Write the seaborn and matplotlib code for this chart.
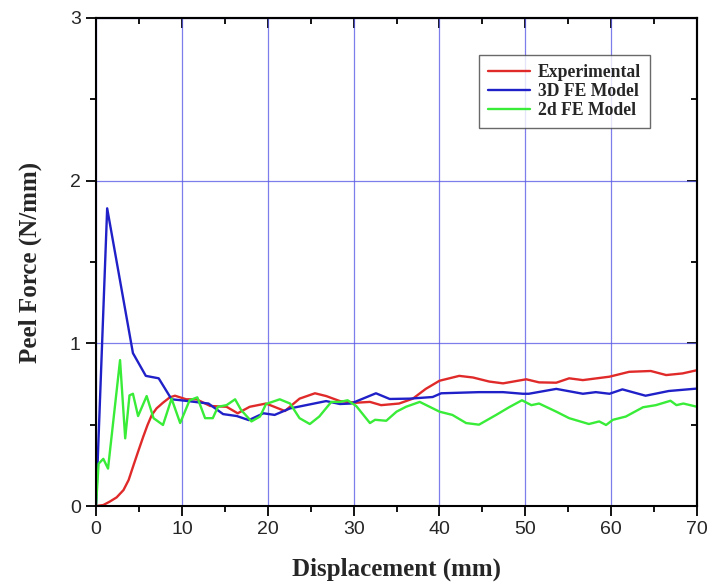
import matplotlib
matplotlib.use("Agg")
import matplotlib.pyplot as plt
import seaborn as sns
import pandas as pd
from matplotlib.ticker import MultipleLocator

# Peel test: experimental curve vs. 3D and 2D finite-element predictions
exp_x = [0, 0.85, 1.6, 2.4, 3.2, 3.8, 4.3, 4.9, 5.5, 6.0, 6.5, 7.05, 7.8, 8.6, 9.2, 10.5,
         11.7, 13.3, 15.2, 16.5, 17.9, 19.8, 22.0, 23.7, 25.5, 26.8, 28.4, 30.3, 31.9,
         33.2, 35.3, 36.9, 38.4, 40.0, 42.3, 43.9, 45.8, 47.4, 50.1, 51.6, 53.6, 55.1,
         56.7, 59.8, 62.1, 64.6, 66.4, 68.3, 70.0]
exp_y = [0, 0.006, 0.027, 0.053, 0.098, 0.16, 0.24, 0.334, 0.426, 0.498, 0.56, 0.60,
         0.635, 0.668, 0.678, 0.656, 0.656, 0.615, 0.61, 0.57, 0.61, 0.63, 0.584, 0.66,
         0.693, 0.676, 0.645, 0.635, 0.64, 0.62, 0.63, 0.66, 0.72, 0.77, 0.80, 0.79,
         0.765, 0.754, 0.779, 0.76, 0.758, 0.785, 0.774, 0.795, 0.825, 0.83, 0.805,
         0.815, 0.835]

fe3d_x = [0, 1.3, 4.3, 5.8, 7.3, 8.8, 9.9, 13.1, 14.8, 16.4, 17.8, 19.5, 20.8, 22.6,
          26.8, 28.4, 29.7, 32.6, 34.2, 36.5, 39.2, 40.2, 44.6, 47.4, 49.7, 50.4, 53.6,
          56.7, 58.2, 59.8, 61.3, 64.0, 66.7, 70.0]
fe3d_y = [0, 1.83, 0.94, 0.80, 0.785, 0.656, 0.65, 0.63, 0.565, 0.553, 0.528, 0.57,
          0.56, 0.60, 0.645, 0.627, 0.63, 0.693, 0.658, 0.66, 0.67, 0.693, 0.70, 0.70,
          0.69, 0.69, 0.72, 0.69, 0.70, 0.69, 0.717, 0.678, 0.707, 0.722]

fe2d_x = [0, 0.3, 0.85, 1.4, 2.8, 3.4, 3.9, 4.3, 4.9, 5.9, 6.7, 7.8, 8.8, 9.8, 10.9,
          11.8, 12.7, 13.6, 14.2, 15.2, 16.2, 16.9, 18.1, 19.1, 19.8, 21.4, 22.6, 23.7,
          24.9, 26.0, 27.4, 28.4, 29.3, 30.3, 31.9, 32.5, 33.8, 35.0, 36.1, 37.7, 40.0,
          41.5, 43.1, 44.6, 46.6, 48.1, 49.6, 50.7, 51.6, 53.6, 55.1, 57.4, 58.6, 59.4,
          60.2, 61.7, 63.7, 65.2, 66.9, 67.6, 68.4, 70.0]
fe2d_y = [0, 0.26, 0.29, 0.23, 0.897, 0.416, 0.68, 0.69, 0.553, 0.676, 0.54, 0.498,
          0.66, 0.51, 0.65, 0.668, 0.54, 0.54, 0.61, 0.62, 0.656, 0.59, 0.52, 0.55,
          0.627, 0.656, 0.63, 0.54, 0.504, 0.55, 0.64, 0.64, 0.65, 0.615, 0.51, 0.53,
          0.524, 0.58, 0.61, 0.64, 0.58, 0.56, 0.51, 0.50, 0.56, 0.607, 0.65, 0.62,
          0.63, 0.58, 0.54, 0.504, 0.52, 0.498, 0.53, 0.55, 0.607, 0.62, 0.647, 0.62,
          0.63, 0.61]

series_names = ["Experimental", "3D FE Model", "2d FE Model"]
series_colors = ["#e02a2a", "#2020c8", "#38ec38"]

frames = []
for name, xs, ys in zip(series_names, [exp_x, fe3d_x, fe2d_x], [exp_y, fe3d_y, fe2d_y]):
    frames.append(pd.DataFrame({"Displacement": xs, "Force": ys, "Series": name}))
data = pd.concat(frames, ignore_index=True)

sns.set_theme(style="white")
plt.rcParams["font.family"] = ["Liberation Sans", "DejaVu Sans"]

fig = plt.figure(figsize=(7.08, 5.86), dpi=100)
ax = fig.add_axes([0.1356, 0.1365, 0.849, 0.8328])

sns.lineplot(data=data, x="Displacement", y="Force", hue="Series",
             hue_order=series_names, palette=series_colors, sort=False,
             estimator=None, linewidth=1.7, ax=ax)

ax.set_xlim(0, 70)
ax.set_ylim(0, 3)
ax.xaxis.set_major_locator(MultipleLocator(10))
ax.xaxis.set_minor_locator(MultipleLocator(5))
ax.yaxis.set_major_locator(MultipleLocator(1))
ax.yaxis.set_minor_locator(MultipleLocator(0.5))

ax.grid(True, which="major", color="#5c5ce6", linewidth=0.9, alpha=0.8)
ax.set_axisbelow(True)

for sp in ax.spines.values():
    sp.set_visible(True)
    sp.set_color("black")
    sp.set_linewidth(1.5)

ax.tick_params(which="both", direction="out", top=False, right=False,
               bottom=True, left=True, color="black", width=1.3)
ax.tick_params(which="major", length=7, labelsize=14, pad=4)
ax.tick_params(which="minor", length=4)

# inward ticks on the top and right edges
ax_top = ax.secondary_xaxis("top")
ax_top.xaxis.set_major_locator(MultipleLocator(10))
ax_top.xaxis.set_minor_locator(MultipleLocator(5))
ax_top.tick_params(which="both", direction="in", labeltop=False, width=1.3, color="black")
ax_top.tick_params(which="major", length=7)
ax_top.tick_params(which="minor", length=4)
ax_top.spines["top"].set_linewidth(1.5)
ax_right = ax.secondary_yaxis("right")
ax_right.yaxis.set_major_locator(MultipleLocator(1))
ax_right.yaxis.set_minor_locator(MultipleLocator(0.5))
ax_right.tick_params(which="both", direction="in", labelright=False, width=1.3, color="black")
ax_right.tick_params(which="major", length=7)
ax_right.tick_params(which="minor", length=4)
ax_right.spines["right"].set_linewidth(1.5)

serif_bold = dict(family=["Liberation Serif", "DejaVu Serif"], weight="bold", size=18)
ax.set_xlabel("Displacement (mm)", labelpad=14, **serif_bold)
ax.set_ylabel("Peel Force (N/mm)", labelpad=20, **serif_bold)

handles, labels = ax.get_legend_handles_labels()
leg = ax.legend(handles, labels, loc="upper right", bbox_to_anchor=(0.922, 0.924),
                borderaxespad=0, frameon=True, fancybox=False, handlelength=2.4,
                handletextpad=0.45, borderpad=0.5, labelspacing=0.12,
                prop=dict(family=["Liberation Serif", "DejaVu Serif"], weight="bold", size=12.7))
leg.get_frame().set_edgecolor("#444444")
leg.get_frame().set_linewidth(1.0)

fig.savefig("out.png", dpi=100)
